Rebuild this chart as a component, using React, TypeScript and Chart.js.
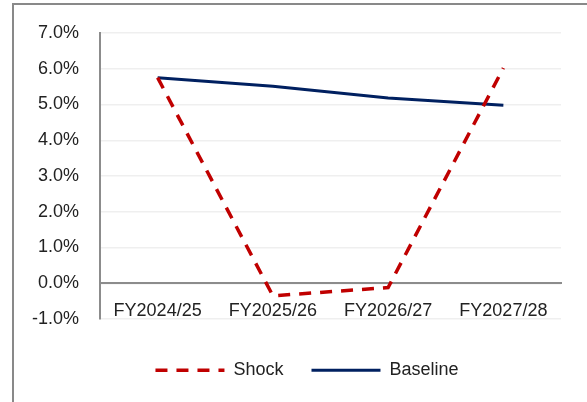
import React, { useEffect, useRef } from 'react';
import { Chart, registerables } from 'chart.js';

Chart.register(...registerables);

const categories = ['FY2024/25', 'FY2025/26', 'FY2026/27', 'FY2027/28'];
const shockValues = [5.75, -0.35, -0.12, 6.02];
const baselineValues = [5.75, 5.51, 5.18, 4.98];
const yMin = -1;
const yMax = 7;
const yStep = 1;

const FONT = '"Liberation Sans", Arial, sans-serif';

export default function App() {
  const ref = useRef<HTMLCanvasElement | null>(null);

  useEffect(() => {
    document.body.style.overflow = 'hidden';
    document.documentElement.style.overflow = 'hidden';
    const canvas = ref.current;
    if (!canvas) return;

    const legendPlacePlugin = {
      id: 'legendPlace',
      beforeInit(chart: any) {
        const legend = chart.legend;
        if (!legend) return;
        const origFit = legend.fit;
        legend.fit = function () {
          origFit.call(this);
          this.height = 83;
        };
      },
      afterLayout(chart: any) {
        const legend = chart.legend;
        if (!legend) return;
        legend.left = 0;
        legend.right = chart.width;
        legend.width = chart.width;
      },
    };

    const defaultGen = (Chart as any).defaults.plugins.legend.labels.generateLabels;

    const chart = new Chart(canvas, {
      type: 'line',
      data: {
        labels: categories,
        datasets: [
          {
            label: 'Shock',
            data: shockValues,
            borderColor: '#C00000',
            backgroundColor: '#C00000',
            borderWidth: 3.5,
            borderDash: [12, 9],
            pointRadius: 0,
            tension: 0,
            fill: false,
          },
          {
            label: 'Baseline',
            data: baselineValues,
            borderColor: '#002060',
            backgroundColor: '#002060',
            borderWidth: 3,
            pointRadius: 0,
            tension: 0,
            fill: false,
          },
        ],
      },
      options: {
        responsive: false,
        animation: false,
        maintainAspectRatio: false,
        layout: { padding: { top: 28, right: 39, left: 0, bottom: 0 } },
        scales: {
          x: {
            position: { y: 0 } as any,
            offset: true,
            grid: { display: false, drawTicks: false },
            border: { display: true, color: '#8c8c8c', width: 2 },
            ticks: {
              padding: 17,
              color: '#222222',
              font: { family: FONT, size: 18 },
              maxRotation: 0,
              autoSkip: false,
            },
          },
          y: {
            min: yMin,
            max: yMax,
            afterFit(scale: any) {
              scale.width = 86;
              scale.paddingTop = 0;
              scale.paddingBottom = 0;
            },
            grid: { color: '#efefef', lineWidth: 1.5, drawTicks: false },
            border: { display: true, color: '#8c8c8c', width: 2 },
            ticks: {
              stepSize: yStep,
              padding: 21,
              color: '#222222',
              font: { family: FONT, size: 18 },
              callback: (v: any) => `${Number(v).toFixed(1)}%`,
            },
          },
        },
        plugins: {
          legend: {
            position: 'bottom',
            title: { display: true, text: ' ', font: { size: 1 }, padding: 6.5 },
            labels: {
              usePointStyle: true,
              pointStyle: 'line',
              pointStyleWidth: 69,
              boxWidth: 69,
              boxHeight: 18,
              padding: 28,
              color: '#222222',
              font: { family: FONT, size: 18 },
              generateLabels(chart: any) {
                const items = defaultGen(chart);
                return items.map((it: any) => {
                  const ds = chart.data.datasets[it.datasetIndex];
                  return {
                    ...it,
                    lineDash: ds.borderDash || [],
                    lineWidth: ds.borderWidth,
                    strokeStyle: ds.borderColor,
                    fillStyle: ds.borderColor,
                    pointStyle: 'line',
                  };
                });
              },
            },
          },
          tooltip: { enabled: false },
        },
      },
      plugins: [legendPlacePlugin],
    });

    return () => chart.destroy();
  }, []);

  return (
    <>
      <div
        style={{
          position: 'fixed',
          left: 12,
          top: 3,
          width: 700,
          height: 500,
          borderLeft: '2px solid #898989',
          borderTop: '2px solid #898989',
          background: '#fff',
        }}
      />
      <canvas
        ref={ref}
        width={586}
        height={397}
        style={{ position: 'fixed', left: 14, top: 5, width: 586, height: 397 }}
      />
    </>
  );
}
